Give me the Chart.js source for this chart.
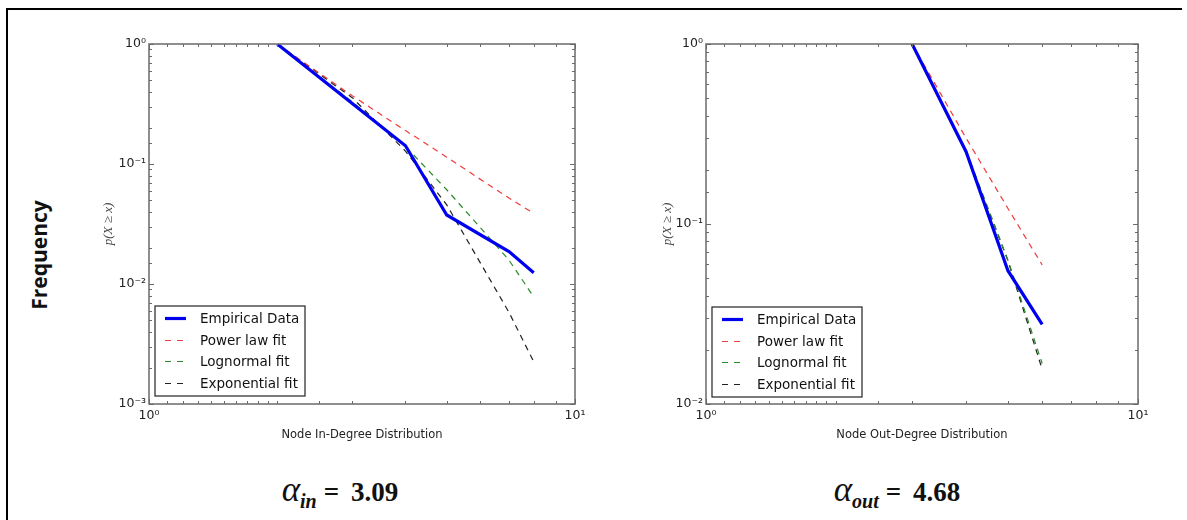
<!DOCTYPE html>
<html lang="en">
<head>
  <meta charset="UTF-8">
  <title>Degree distributions</title>
  <script src="https://cdn.jsdelivr.net/npm/chart.js"></script>
  <style>
    body { margin: 0; background: #fff; }
    #page { position: relative; width: 1187px; height: 520px; overflow: hidden; background: #fff; }
    .box { position: absolute; }
    .edge { position: absolute; background: #000; }
    #freq {
      position: absolute; left: 39px; top: 255px;
      transform: translate(-50%, -50%) rotate(-90deg);
      font-family: 'Open Sans', sans-serif; font-weight: bold; font-size: 21px; color: #111;
      white-space: nowrap;
    }
    .alpha {
      position: absolute; top: 472px; width: 260px; text-align: center;
      font-family: 'Liberation Serif', serif; font-weight: bold; font-size: 27px; line-height: 36px; color: #111;
      white-space: nowrap;
    }
    .alpha i { font-size: 35px; font-weight: normal; }
    .alpha sub { font-size: 20px; font-style: italic; vertical-align: -7px; margin-right: 7px; }
    .alpha .eq { margin-right: 12px; }
  </style>
</head>
<body>
  <div id="page">
    <div class="edge" style="left:6px; top:8px; width:1176px; height:2px;"></div>
    <div class="edge" style="left:6px; top:8px; width:2px; height:512px;"></div>

    <div id="freq">Frequency</div>

    <div class="box" style="left:50px; top:14px;"><canvas id="inChart" width="560" height="446"></canvas></div>
    <div class="box" style="left:615px; top:14px;"><canvas id="outChart" width="560" height="446"></canvas></div>

    <div class="alpha" style="left:210px;"><i>α</i><sub>in</sub><span class="eq">=</span>3.09</div>
    <div class="alpha" style="left:767px;"><i>α</i><sub>out</sub><span class="eq">=</span>4.68</div>
  </div>

  <script>
    // in-degree
    const inDegX = [2, 3, 4, 5, 7, 8];
    const inEmpirical = [1, 0.32, 0.142, 0.0376, 0.0186, 0.0124];
    const inPowerLaw = [1, 0.37, 0.19, 0.114, 0.052, 0.0388];
    const inLognormal = [1, 0.33, 0.14, 0.061, 0.0158, 0.0078];
    const inExponential = [1, 0.357, 0.128, 0.0456, 0.0058, 0.00225];

    // out-degree
    const outDegX = [3, 4, 5, 6];
    const outEmpirical = [1, 0.252, 0.055, 0.0277];
    const outPowerLaw = [1, 0.30, 0.122, 0.0592];
    const outLognormal = [1, 0.255, 0.063, 0.0168];
    const outExponential = [1, 0.25, 0.0625, 0.0156];

    const seriesNames = ['Empirical Data', 'Power law fit', 'Lognormal fit', 'Exponential fit'];
    const seriesColors = ['#0000f0', '#ee3b3b', '#2a8a2a', '#222222'];

    const sup = { '0': '⁰', '1': '¹', '2': '²', '3': '³', '-': '⁻' };
    function isPow10(v) {
      const e = Math.log10(v);
      return Math.abs(e - Math.round(e)) < 1e-6;
    }
    function powLabel(v) {
      if (!isPow10(v)) return '';
      return '10' + String(Math.round(Math.log10(v))).split('').map(c => sup[c]).join('');
    }

    // frame + inward ticks like matplotlib
    const framePlugin = {
      id: 'frame',
      afterDatasetsDraw(chart) {
        const { ctx, chartArea: a, scales: { x, y } } = chart;
        ctx.save();
        ctx.strokeStyle = '#6a6a6a';
        ctx.lineWidth = 1;
        ctx.beginPath();
        x.ticks.forEach(t => {
          const px = Math.round(x.getPixelForValue(t.value)) + 0.5;
          const len = isPow10(t.value) ? 5 : 3;
          ctx.moveTo(px, a.bottom); ctx.lineTo(px, a.bottom - len);
          ctx.moveTo(px, a.top); ctx.lineTo(px, a.top + len);
        });
        y.ticks.forEach(t => {
          const py = Math.round(y.getPixelForValue(t.value)) + 0.5;
          const len = isPow10(t.value) ? 5 : 3;
          ctx.moveTo(a.left, py); ctx.lineTo(a.left + len, py);
          ctx.moveTo(a.right, py); ctx.lineTo(a.right - len, py);
        });
        ctx.stroke();
        ctx.lineWidth = 1.5;
        ctx.strokeRect(a.left, a.top, a.right - a.left, a.bottom - a.top);
        ctx.restore();
      }
    };

    // legend box in the lower left of the plot area
    const boxLegend = {
      id: 'boxLegend',
      afterDraw(chart, args, opts) {
        const { ctx, chartArea: a } = chart;
        const bx = a.left + opts.left;
        const by = a.bottom - opts.bottom - opts.height;
        ctx.save();
        ctx.fillStyle = '#fff';
        ctx.fillRect(bx, by, opts.width, opts.height);
        ctx.strokeStyle = '#222';
        ctx.lineWidth = 1.2;
        ctx.strokeRect(bx, by, opts.width, opts.height);
        ctx.font = '13.5px "DejaVu Sans"';
        ctx.textBaseline = 'middle';
        chart.data.datasets.forEach((ds, i) => {
          const ry = Math.round(by + 12 + i * 21.5) + 0.5;
          ctx.strokeStyle = ds.borderColor;
          ctx.lineWidth = ds.borderWidth;
          ctx.setLineDash(ds.borderDash.length ? [6, 6] : []);
          ctx.beginPath();
          ctx.moveTo(bx + 10, ry);
          ctx.lineTo(bx + 31, ry);
          ctx.stroke();
          ctx.setLineDash([]);
          ctx.fillStyle = '#111';
          ctx.fillText(ds.label, bx + 45, ry + 1);
        });
        ctx.restore();
      }
    };

    function makeChart(id, xs, series, yMin, axisW, rightPad, yTitlePad, xTitle, legendBottom) {
      const datasets = series.map((vals, i) => ({
        label: seriesNames[i],
        data: xs.map((x, j) => ({ x: x, y: vals[j] })),
        borderColor: seriesColors[i],
        borderWidth: i === 0 ? 3.2 : 1.2,
        borderDash: i === 0 ? [] : [6, 5],
        order: i === 0 ? 0 : 1,   // empirical line drawn on top
        pointRadius: 0,
        tension: 0,
        fill: false
      }));
      return new Chart(document.getElementById(id), {
        type: 'line',
        data: { datasets: datasets },
        options: {
          responsive: false,
          animation: false,
          layout: { padding: { top: 30, right: rightPad, left: 0, bottom: 0 } },
          plugins: {
            legend: { display: false },
            tooltip: { enabled: false },
            boxLegend: { left: 6, bottom: legendBottom, width: 150, height: 90 }
          },
          scales: {
            x: {
              type: 'logarithmic', min: 1, max: 10,
              grid: { display: false, drawTicks: false },
              border: { display: false },
              ticks: { autoSkip: false, maxRotation: 0, padding: 4, color: '#222',
                font: { family: 'DejaVu Sans', size: 12.5 }, callback: v => powLabel(v) },
              title: { display: true, text: xTitle, color: '#222',
                font: { family: 'DejaVu Sans', size: 11.5 }, padding: { top: 0, bottom: 18 } },
              afterFit: s => { s.height = 56; }
            },
            y: {
              type: 'logarithmic', min: yMin, max: 1,
              grid: { display: false, drawTicks: false },
              border: { display: false },
              ticks: { autoSkip: false, padding: 3, color: '#222',
                font: { family: 'DejaVu Sans', size: 12.5 }, callback: v => powLabel(v) },
              title: { display: true, text: 'p(X ≥ x)', color: '#444',
                font: { family: 'Liberation Serif', size: 13, style: 'italic' }, padding: { top: yTitlePad, bottom: 0 } },
              afterFit: s => { s.width = axisW; }
            }
          }
        },
        plugins: [framePlugin, boxLegend]
      });
    }

    makeChart('inChart', inDegX, [inEmpirical, inPowerLaw, inLognormal, inExponential],
      0.001, 99, 35, 51.2, 'Node In-Degree Distribution', 8);
    makeChart('outChart', outDegX, [outEmpirical, outPowerLaw, outLognormal, outExponential],
      0.01, 91, 37, 45.2, 'Node Out-Degree Distribution', 7);
  </script>
</body>
</html>
